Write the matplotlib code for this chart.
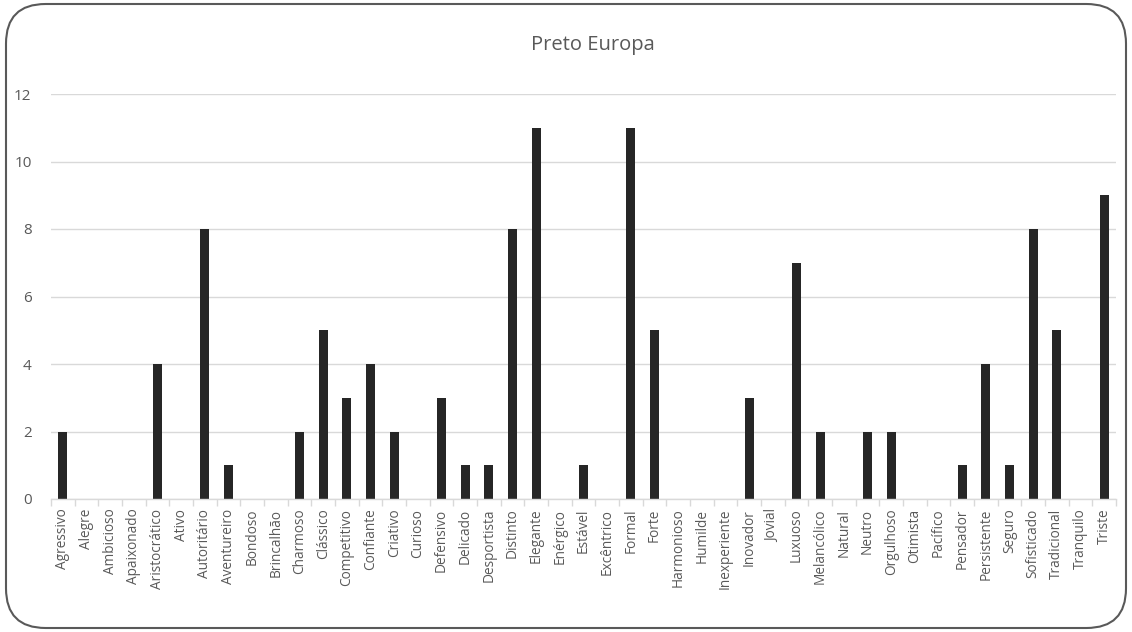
import matplotlib
matplotlib.use("Agg")
import matplotlib.pyplot as plt
from matplotlib.patches import FancyBboxPatch
import numpy as np

plt.rcParams['font.family'] = ['Open Sans', 'DejaVu Sans']

categories = ["Agressivo", "Alegre", "Ambicioso", "Apaixonado", "Aristocrático", "Ativo",
              "Autoritário", "Aventureiro", "Bondoso", "Brincalhão", "Charmoso", "Clássico",
              "Competitivo", "Confiante", "Criativo", "Curioso", "Defensivo", "Delicado",
              "Desportista", "Distinto", "Elegante", "Enérgico", "Estável", "Excêntrico",
              "Formal", "Forte", "Harmonioso", "Humilde", "Inexperiente", "Inovador", "Jovial",
              "Luxuoso", "Melancólico", "Natural", "Neutro", "Orgulhoso", "Otimista", "Pacífico",
              "Pensador", "Persistente", "Seguro", "Sofisticado", "Tradicional", "Tranquilo", "Triste"]
values = [2, 0, 0, 0, 4, 0, 8, 1, 0, 0, 2, 5, 3, 4, 2, 0, 3, 1, 1, 8, 11, 0, 1, 0,
          11, 5, 0, 0, 0, 3, 0, 7, 2, 0, 2, 2, 0, 0, 1, 4, 1, 8, 5, 0, 9]
title = "Preto Europa"
yticks = [0, 2, 4, 6, 8, 10, 12]

fig = plt.figure(figsize=(11.32, 6.32), dpi=100)
ax = fig.add_axes([51/1132, 1-499/632, (1116-51)/1132, (499-94)/632])

x = np.arange(len(categories))
ax.bar(x, values, width=0.38, color="#262626", zorder=3)
ax.set_xlim(-0.5, len(categories)-0.5)
ax.set_ylim(0, 12)
ax.set_yticks(yticks)
ax.yaxis.grid(True, color="#d9d9d9", linewidth=1, zorder=0)
ax.set_xticks(x)
ax.set_xticklabels(categories, rotation=90, fontsize=9.8, color="#595959")
ax.set_xticks(np.arange(len(categories)+1)-0.5, minor=True)
ax.tick_params(axis='x', which='major', length=0, pad=7)
ax.tick_params(axis='x', which='minor', length=5, color="#d9d9d9", width=1)
ax.tick_params(axis='y', length=0, labelsize=11, labelcolor="#595959", pad=14)
for s in ["top", "right", "left"]:
    ax.spines[s].set_visible(False)
ax.spines["bottom"].set_color("#d9d9d9")
ax.spines["bottom"].set_linewidth(1)
ax.spines["bottom"].set_zorder(4)

fig.text(593/1132, 1-45/632, title, ha="center", va="center", fontsize=14.5, color="#595959")

border = FancyBboxPatch((6/1132, 4/632), 1120/1132, 624/632,
                        boxstyle="round,pad=0,rounding_size=0.035",
                        transform=fig.transFigure, fill=False,
                        edgecolor="#595959", linewidth=1.5, mutation_aspect=1132/632)
fig.patches.append(border)

fig.savefig("out.png", dpi=100)
